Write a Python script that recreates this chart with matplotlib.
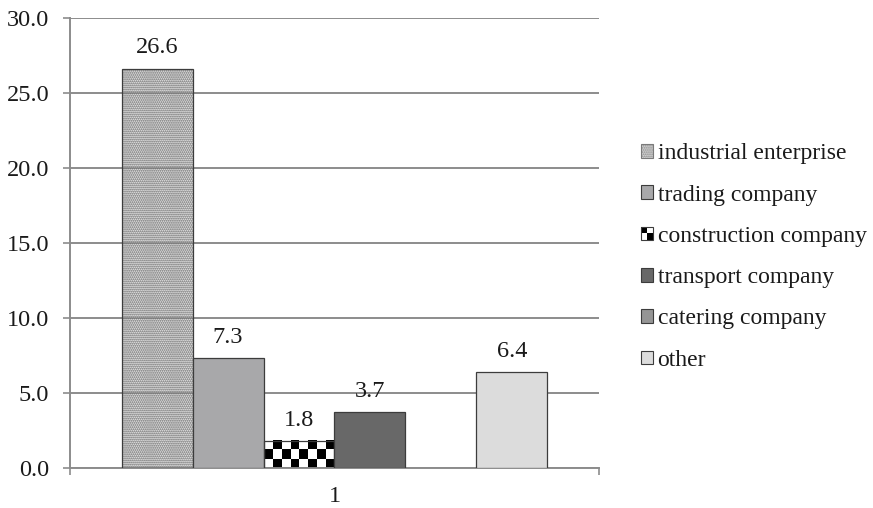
import matplotlib
matplotlib.use("Agg")
import matplotlib.pyplot as plt
import numpy as np
from matplotlib.patches import Patch, Rectangle
from matplotlib.legend_handler import HandlerBase


categories = ["1"]
series = ["industrial enterprise", "trading company", "construction company",
          "transport company", "catering company", "other"]
values = [26.6, 7.3, 1.8, 3.7, 0.0, 6.4]
labels = ["26.6", "7.3", "1.8", "3.7", "", "6.4"]
yticks = [0, 5, 10, 15, 20, 25, 30]

face = ["none", "#a8a8aa", "white", "#686868", "#959595", "#dcdcdc"]
edge = "#3c3c3c"
grid_c = "#8c8c8c"

plt.rcParams["font.family"] = ["Liberation Serif", "DejaVu Serif"]
plt.rcParams["font.size"] = 17
plt.rcParams["hatch.linewidth"] = 0.9


class CheckerHandler(HandlerBase):
	# 2x2 black/white swatch for the checkered series
	def create_artists(self, legend, orig_handle, xdescent, ydescent,
	                   width, height, fontsize, trans):
		hw, hh = width / 2, height / 2
		arts = []
		for i in range(2):
			for j in range(2):
				c = "black" if (i + j) % 2 == 1 else "white"
				arts.append(Rectangle((-xdescent + i * hw, -ydescent + j * hh), hw, hh,
				                      facecolor=c, edgecolor="none", transform=trans))
		arts.append(Rectangle((-xdescent, -ydescent), width, height, facecolor="none",
		                      edgecolor=edge, lw=0.8, transform=trans))
		return arts


fig = plt.figure(figsize=(8.73, 5.08), dpi=100)
ax = fig.add_axes([70 / 873, 40 / 508, 529 / 873, 450.5 / 508])

x0 = 1.0
w = 0.1342
n = len(series)
ax.set_axisbelow(True)

for i, (name, v) in enumerate(zip(series, values)):
	xc = x0 + (i - (n - 1) / 2) * w
	if i == 0:
		# stippled fill, semi transparent so the grid shows through
		ax.bar(xc, v, w, facecolor=(0.8, 0.8, 0.8, 0.45), edgecolor="#5e5e5e",
		       hatch="........", linewidth=0, zorder=2)
		ax.bar(xc, v, w, facecolor="none", edgecolor=edge, linewidth=0.9, zorder=3)
	elif i == 2:
		b = ax.bar(xc, v, w, facecolor="none", edgecolor=edge, linewidth=0.9, zorder=3)[0]
		board = (np.indices((3, 8)).sum(axis=0) % 2).astype(float)
		ax.imshow(board, cmap="gray_r", vmin=0, vmax=1, interpolation="nearest",
		          extent=(b.get_x(), b.get_x() + b.get_width(), 0, b.get_height()),
		          aspect="auto", origin="upper", zorder=2.5)
	elif v > 0:
		ax.bar(xc, v, w, facecolor=face[i], edgecolor=edge, linewidth=0.9, zorder=3)
	if labels[i]:
		ax.annotate(labels[i], (xc, v), xytext=(0, 11), textcoords="offset points",
		            ha="center", va="baseline", fontsize=17.5, color="#1a1a1a", zorder=4)

ax.set_xlim(0.5, 1.5)
ax.set_ylim(0, 30)
ax.set_yticks(yticks)
ax.set_yticklabels([f"{t:.1f}" for t in yticks])
ax.yaxis.grid(True, color=grid_c, linewidth=1.4)
ax.tick_params(axis="y", direction="out", length=5, width=1.2, color=grid_c,
               pad=10, labelsize=17.5, labelcolor="#1a1a1a")

ax.set_xticks([0.5, 1.5])
ax.set_xticklabels(["", ""])
ax.set_xticks([x0], minor=True)
ax.set_xticklabels(categories, minor=True)
ax.tick_params(axis="x", which="major", direction="out", length=5, width=1.2, color=grid_c)
ax.tick_params(axis="x", which="minor", length=0, pad=13, labelsize=17.5, labelcolor="#1a1a1a")

for s in ["top", "right"]:
	ax.spines[s].set_visible(False)
for s in ["left", "bottom"]:
	ax.spines[s].set_color(grid_c)
	ax.spines[s].set_linewidth(1.4)

handles = []
for i, name in enumerate(series):
	if i == 0:
		h = Patch(facecolor="#e2e2e2", edgecolor="#7a7a7a", hatch="........", lw=0.8, label=name)
	else:
		h = Patch(facecolor=face[i], edgecolor=edge, lw=0.8, label=name)
	handles.append(h)

leg = fig.legend(handles=handles, loc="center left", bbox_to_anchor=(641 / 873, 1 - 257 / 508),
                 bbox_transform=fig.transFigure, frameon=False, borderpad=0, borderaxespad=0,
                 handlelength=0.5, handleheight=0.5, handletextpad=0.2, labelspacing=0.86,
                 fontsize=17, handler_map={handles[2]: CheckerHandler()})
for t in leg.get_texts():
	t.set_color("#1a1a1a")

fig.savefig("out.png", dpi=100)
